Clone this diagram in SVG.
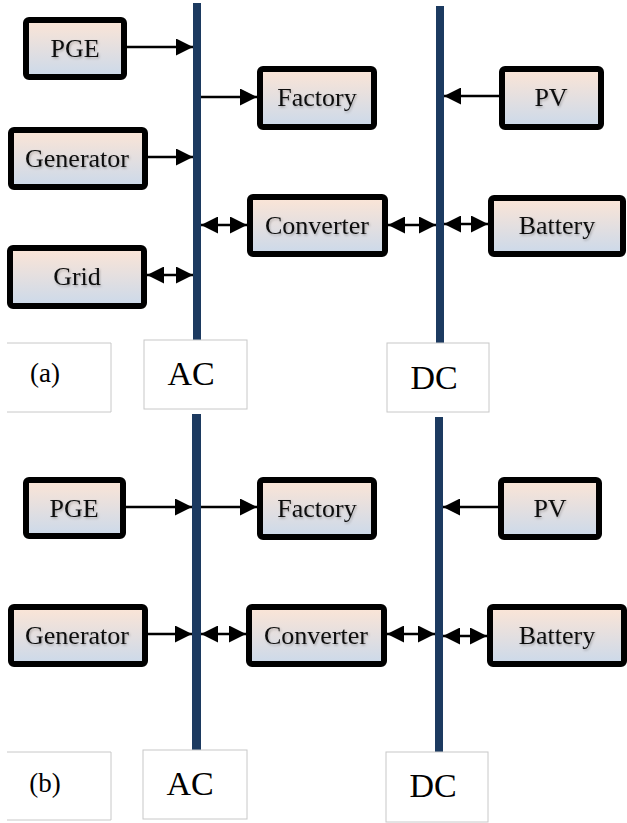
<svg xmlns="http://www.w3.org/2000/svg" width="627" height="823" viewBox="0 0 627 823">
<defs>
<linearGradient id="fillG" x1="0" y1="0" x2="0" y2="1">
<stop offset="0" stop-color="#fce5d6"/>
<stop offset="1" stop-color="#cbd9ea"/>
</linearGradient>
<filter id="ts" x="-10%" y="-20%" width="130%" height="150%">
<feDropShadow dx="1" dy="1.5" stdDeviation="0.8" flood-color="#000" flood-opacity="0.25"/>
</filter>
<marker id="ah" viewBox="0 0 17 17" markerUnits="userSpaceOnUse" markerWidth="17" markerHeight="17" refX="17" refY="8.5" orient="auto-start-reverse">
<path d="M0,0 L17,8.5 L0,17 z" fill="#000"/>
</marker>
</defs>
<style>
.box{fill:url(#fillG);stroke:#000;stroke-width:6;}
.lbl{font-family:"Liberation Serif","Times New Roman",serif;font-size:26px;text-anchor:middle;fill:#111;filter:url(#ts);}
.bus{fill:#1c3a60;}
.tag{fill:#fff;stroke:#c8c8c8;stroke-width:1;}
.tagt{font-family:"Liberation Serif","Times New Roman",serif;text-anchor:middle;fill:#000;}
.c{stroke:#000;stroke-width:2.5;fill:none;marker-end:url(#ah);}
.d{stroke:#000;stroke-width:2.5;fill:none;marker-end:url(#ah);marker-start:url(#ah);}
</style>

<g id="buses">
<rect id="ac-bus-a" class="bus" x="193" y="3" width="8" height="337"/>
<rect id="dc-bus-a" class="bus" x="436" y="6" width="8" height="337"/>
<rect id="ac-bus-b" class="bus" x="192" y="414" width="9" height="336"/>
<rect id="dc-bus-b" class="bus" x="435" y="417" width="8" height="335"/>
</g>

<g id="connectors">
<line class="c" x1="127" y1="47" x2="193" y2="47"/>
<line class="c" x1="148" y1="157" x2="193" y2="157"/>
<line class="d" x1="147" y1="275" x2="193" y2="275"/>
<line class="c" x1="201" y1="97" x2="257" y2="97"/>
<line class="d" x1="201" y1="225" x2="247" y2="225"/>
<line class="d" x1="388" y1="225" x2="436" y2="225"/>
<line class="c" x1="499" y1="96" x2="444" y2="96"/>
<line class="d" x1="444" y1="224" x2="488" y2="224"/>

<line class="c" x1="126" y1="507" x2="192" y2="507"/>
<line class="c" x1="201" y1="507" x2="257" y2="507"/>
<line class="c" x1="498" y1="507" x2="443" y2="507"/>
<line class="c" x1="148" y1="634" x2="192" y2="634"/>
<line class="d" x1="201" y1="634" x2="246" y2="634"/>
<line class="d" x1="387" y1="634" x2="435" y2="634"/>
<line class="d" x1="443" y1="636" x2="487" y2="636"/>
</g>

<g id="pge-a"><rect class="box" x="26" y="20" width="98" height="57" rx="3"/><text class="lbl" x="75" y="57">PGE</text></g>
<g id="generator-a"><rect class="box" x="11" y="130" width="134" height="57" rx="3"/><text class="lbl" x="77" y="167">Generator</text></g>
<g id="grid-a"><rect class="box" x="10" y="248" width="134" height="58" rx="3"/><text class="lbl" x="77" y="285">Grid</text></g>
<g id="factory-a"><rect class="box" x="260" y="69" width="114" height="58" rx="3"/><text class="lbl" x="317" y="106">Factory</text></g>
<g id="converter-a"><rect class="box" x="250" y="197" width="135" height="57" rx="3"/><text class="lbl" x="317" y="234">Converter</text></g>
<g id="pv-a"><rect class="box" x="502" y="69" width="99" height="58" rx="3"/><text class="lbl" x="551" y="106">PV</text></g>
<g id="battery-a"><rect class="box" x="491" y="198" width="132" height="56" rx="3"/><text class="lbl" x="557" y="234">Battery</text></g>

<g id="label-a"><path class="tag" d="M7,343 H111 V412 H7"/><text class="tagt" x="45" y="382" font-size="27">(a)</text></g>
<g id="ac-label-a"><rect class="tag" x="144" y="340" width="103" height="69"/><text class="tagt" x="191" y="385" font-size="34">AC</text></g>
<g id="dc-label-a"><rect class="tag" x="387" y="343" width="102" height="69"/><text class="tagt" x="434" y="389" font-size="34">DC</text></g>

<g id="pge-b"><rect class="box" x="26" y="480" width="97" height="56" rx="3"/><text class="lbl" x="74" y="517">PGE</text></g>
<g id="factory-b"><rect class="box" x="260" y="480" width="114" height="57" rx="3"/><text class="lbl" x="317" y="517">Factory</text></g>
<g id="pv-b"><rect class="box" x="501" y="480" width="98" height="57" rx="3"/><text class="lbl" x="550" y="517">PV</text></g>
<g id="generator-b"><rect class="box" x="11" y="607" width="134" height="57" rx="3"/><text class="lbl" x="77" y="644">Generator</text></g>
<g id="converter-b"><rect class="box" x="249" y="607" width="135" height="57" rx="3"/><text class="lbl" x="316" y="644">Converter</text></g>
<g id="battery-b"><rect class="box" x="490" y="607" width="134" height="57" rx="3"/><text class="lbl" x="557" y="644">Battery</text></g>

<g id="label-b"><path class="tag" d="M7,752 H111 V820 H7"/><text class="tagt" x="45" y="792" font-size="27">(b)</text></g>
<g id="ac-label-b"><rect class="tag" x="143" y="750" width="104" height="69"/><text class="tagt" x="190" y="795" font-size="34">AC</text></g>
<g id="dc-label-b"><rect class="tag" x="386" y="752" width="102" height="70"/><text class="tagt" x="433" y="797" font-size="34">DC</text></g>
</svg>
